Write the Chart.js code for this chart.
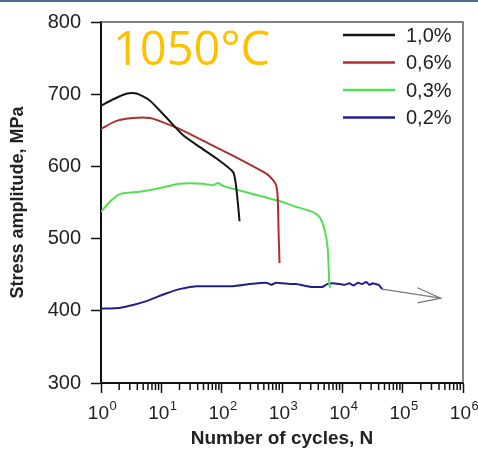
<!DOCTYPE html>
<html>
<head>
<meta charset="utf-8">
<script src="https://cdn.jsdelivr.net/npm/chart.js@4.4.1/dist/chart.umd.min.js"></script>
<style>
  html, body { margin: 0; padding: 0; background: #fff; }
  #wrap { width: 478px; height: 450px; }
</style>
</head>
<body>
<div id="wrap"><canvas id="fatigue-chart"></canvas></div>
<script>
// cycles N and stress amplitude (MPa)
const n_10 = [1, 1.6, 2.7, 3.9, 6.5, 12, 23, 43, 82, 155, 175, 198];
const s_10 = [684, 693, 701, 701, 691, 668, 643, 627, 611, 592, 570, 524];

const n_06 = [1, 1.8, 3.4, 6.5, 10.7, 20, 43, 153, 550, 710, 800, 850, 880, 910];
const s_06 = [652, 663, 667, 667, 661, 652, 638, 615, 590, 581, 574, 556, 506, 466];

const n_03 = [1, 1.4, 2.1, 4.4, 9.5, 20, 49, 72, 87, 105, 155, 910, 1720, 3230, 4180, 5030, 5720, 6100, 6300];
const s_03 = [537, 551, 562, 565, 570, 576, 576, 574, 577, 573, 569, 552, 544, 537, 530, 514, 487, 437, 432];

const n_02 = [1, 2, 3.4, 5.5, 8.3, 12, 17.8, 26, 38, 155, 290, 550, 660, 800, 1330, 1700, 3200, 4700, 5600, 7000,
  9000, 11000, 13000, 15500, 18000, 21000, 25000, 28000, 32000, 36000, 40000, 45700];
const s_02 = [403, 404, 408, 413, 419, 424, 429, 432, 434, 434, 437, 439, 436, 439, 437, 437, 433, 433, 437, 438,
  437, 436, 438, 435, 439, 437, 440, 436, 438, 437, 436, 430];

// run-out arrow
const n_arrow = [45700, 427000];
const s_arrow = [430, 417.5];
const n_head = [176000, 427000, 176000];
const s_head = [432, 417.5, 411];

const labels_legend = ["1,0%", "0,6%", "0,3%", "0,2%"];
const temp_label = "1050\u00B0C";
const decade_ticks = [1, 10, 100, 1000, 10000, 100000, 1000000];

const COLORS = {
  black: "rgb(20, 20, 20)",
  red: "rgb(172, 48, 48)",
  green: "rgb(84, 222, 84)",
  blue: "rgb(32, 32, 140)",
  grey: "rgb(120, 120, 120)",
};
const FONT = "'Liberation Sans', Arial, sans-serif";

function pts(xs, ys) {
  return xs.map((x, i) => ({ x: x, y: ys[i] }));
}

function curve(xs, ys, color) {
  return {
    data: pts(xs, ys),
    borderColor: color,
    borderWidth: 2,
    pointRadius: 0,
    tension: 0.2,
    fill: false,
  };
}

const data_fat = {
  datasets: [
    curve(n_10, s_10, COLORS.black),
    curve(n_06, s_06, COLORS.red),
    curve(n_03, s_03, COLORS.green),
    Object.assign(curve(n_02, s_02, COLORS.blue), { tension: 0.1 }),
    { data: pts(n_arrow, s_arrow), borderColor: COLORS.grey, borderWidth: 1.2, pointRadius: 0 },
    { data: pts(n_head, s_head), borderColor: COLORS.grey, borderWidth: 1.2, pointRadius: 0 },
  ],
};

// frame, minor ticks, decade labels, legend and temperature label
const extras = {
  id: "extras",
  beforeDraw(chart) {
    const ctx = chart.ctx;
    ctx.save();
    ctx.fillStyle = "#fff";
    ctx.fillRect(0, 0, chart.width, chart.height);
    ctx.fillStyle = "rgb(78, 108, 150)";
    ctx.fillRect(0, 0, chart.width, 2);
    ctx.restore();
  },
  afterDraw(chart) {
    const ctx = chart.ctx;
    const a = chart.chartArea;
    const xs = chart.scales.x;
    ctx.save();
    ctx.strokeStyle = "rgb(90, 90, 90)";
    ctx.lineWidth = 1.5;
    ctx.beginPath();
    ctx.moveTo(a.left, a.top);
    ctx.lineTo(a.right, a.top);
    ctx.lineTo(a.right, a.bottom);
    ctx.stroke();

    ctx.strokeStyle = "#111";
    ctx.lineWidth = 1.5;
    for (let k = 0; k < 6; k++) {
      for (let m = 2; m < 10; m++) {
        const px = xs.getPixelForValue(m * Math.pow(10, k));
        ctx.beginPath();
        ctx.moveTo(px, a.bottom);
        ctx.lineTo(px, a.bottom + 7);
        ctx.stroke();
      }
    }

    // 10^k labels with a real superscript
    ctx.fillStyle = "#222";
    ctx.textBaseline = "alphabetic";
    ctx.textAlign = "left";
    decade_ticks.forEach((v) => {
      const px = xs.getPixelForValue(v);
      const e = String(Math.round(Math.log10(v)));
      ctx.font = "19px " + FONT;
      const wb = ctx.measureText("10").width;
      ctx.font = "13px " + FONT;
      const we = ctx.measureText(e).width;
      const x0 = px - (wb + we) / 2 + 1;
      ctx.font = "19px " + FONT;
      ctx.fillText("10", x0, a.bottom + 36);
      ctx.font = "13px " + FONT;
      ctx.fillText(e, x0 + wb + 0.5, a.bottom + 27);
    });

    const cols = [COLORS.black, COLORS.red, COLORS.green, COLORS.blue];
    ctx.font = "20px " + FONT;
    ctx.textBaseline = "middle";
    ctx.textAlign = "left";
    labels_legend.forEach((t, i) => {
      const y = 35 + i * 27.5;
      ctx.strokeStyle = cols[i];
      ctx.lineWidth = 2.5;
      ctx.beginPath();
      ctx.moveTo(343, y);
      ctx.lineTo(395, y);
      ctx.stroke();
      ctx.fillStyle = "#222";
      ctx.fillText(t, 406, y + 1);
    });

    ctx.fillStyle = "rgb(255, 192, 0)";
    ctx.font = "47px 'Open Sans', sans-serif";
    ctx.textBaseline = "alphabetic";
    ctx.fillText(temp_label, 113, 65);
    ctx.restore();
  },
};

const config_fat = {
  type: "line",
  data: data_fat,
  plugins: [extras],
  options: {
    responsive: true,
    maintainAspectRatio: false,
    animation: false,
    layout: { padding: { top: 19, right: 15, left: 0, bottom: 0 } },
    plugins: {
      legend: { display: false },
      tooltip: { enabled: false },
    },
    scales: {
      x: {
        type: "logarithmic",
        min: 1,
        max: 1000000,
        afterBuildTicks: (s) => {
          s.ticks = decade_ticks.map((v) => ({ value: v }));
        },
        afterFit: (s) => {
          s.height = 67;
        },
        ticks: { display: false },
        grid: { drawOnChartArea: false, tickLength: 10, tickWidth: 1.5, tickColor: "#111" },
        border: { color: "#111", width: 2 },
        title: {
          display: true,
          text: "Number of cycles, N",
          color: "#222",
          font: { family: FONT, size: 19, weight: "bold" },
          padding: { top: 0, bottom: 0 },
        },
      },
      y: {
        min: 300,
        max: 800,
        afterFit: (s) => {
          s.width = 101;
        },
        ticks: {
          stepSize: 100,
          padding: 10,
          color: "#222",
          font: { family: FONT, size: 20 },
        },
        grid: { drawOnChartArea: false, tickLength: 10, tickWidth: 1.5, tickColor: "#111" },
        border: { color: "#111", width: 2 },
        title: {
          display: true,
          text: "Stress amplitude, MPa",
          color: "#222",
          font: { family: FONT, size: 18, weight: "bold" },
          padding: { top: 7, bottom: 0 },
        },
      },
    },
  },
};

var ctx_fat = document.getElementById("fatigue-chart").getContext("2d");
var chart_fat = new Chart(ctx_fat, config_fat);
</script>
</body>
</html>
